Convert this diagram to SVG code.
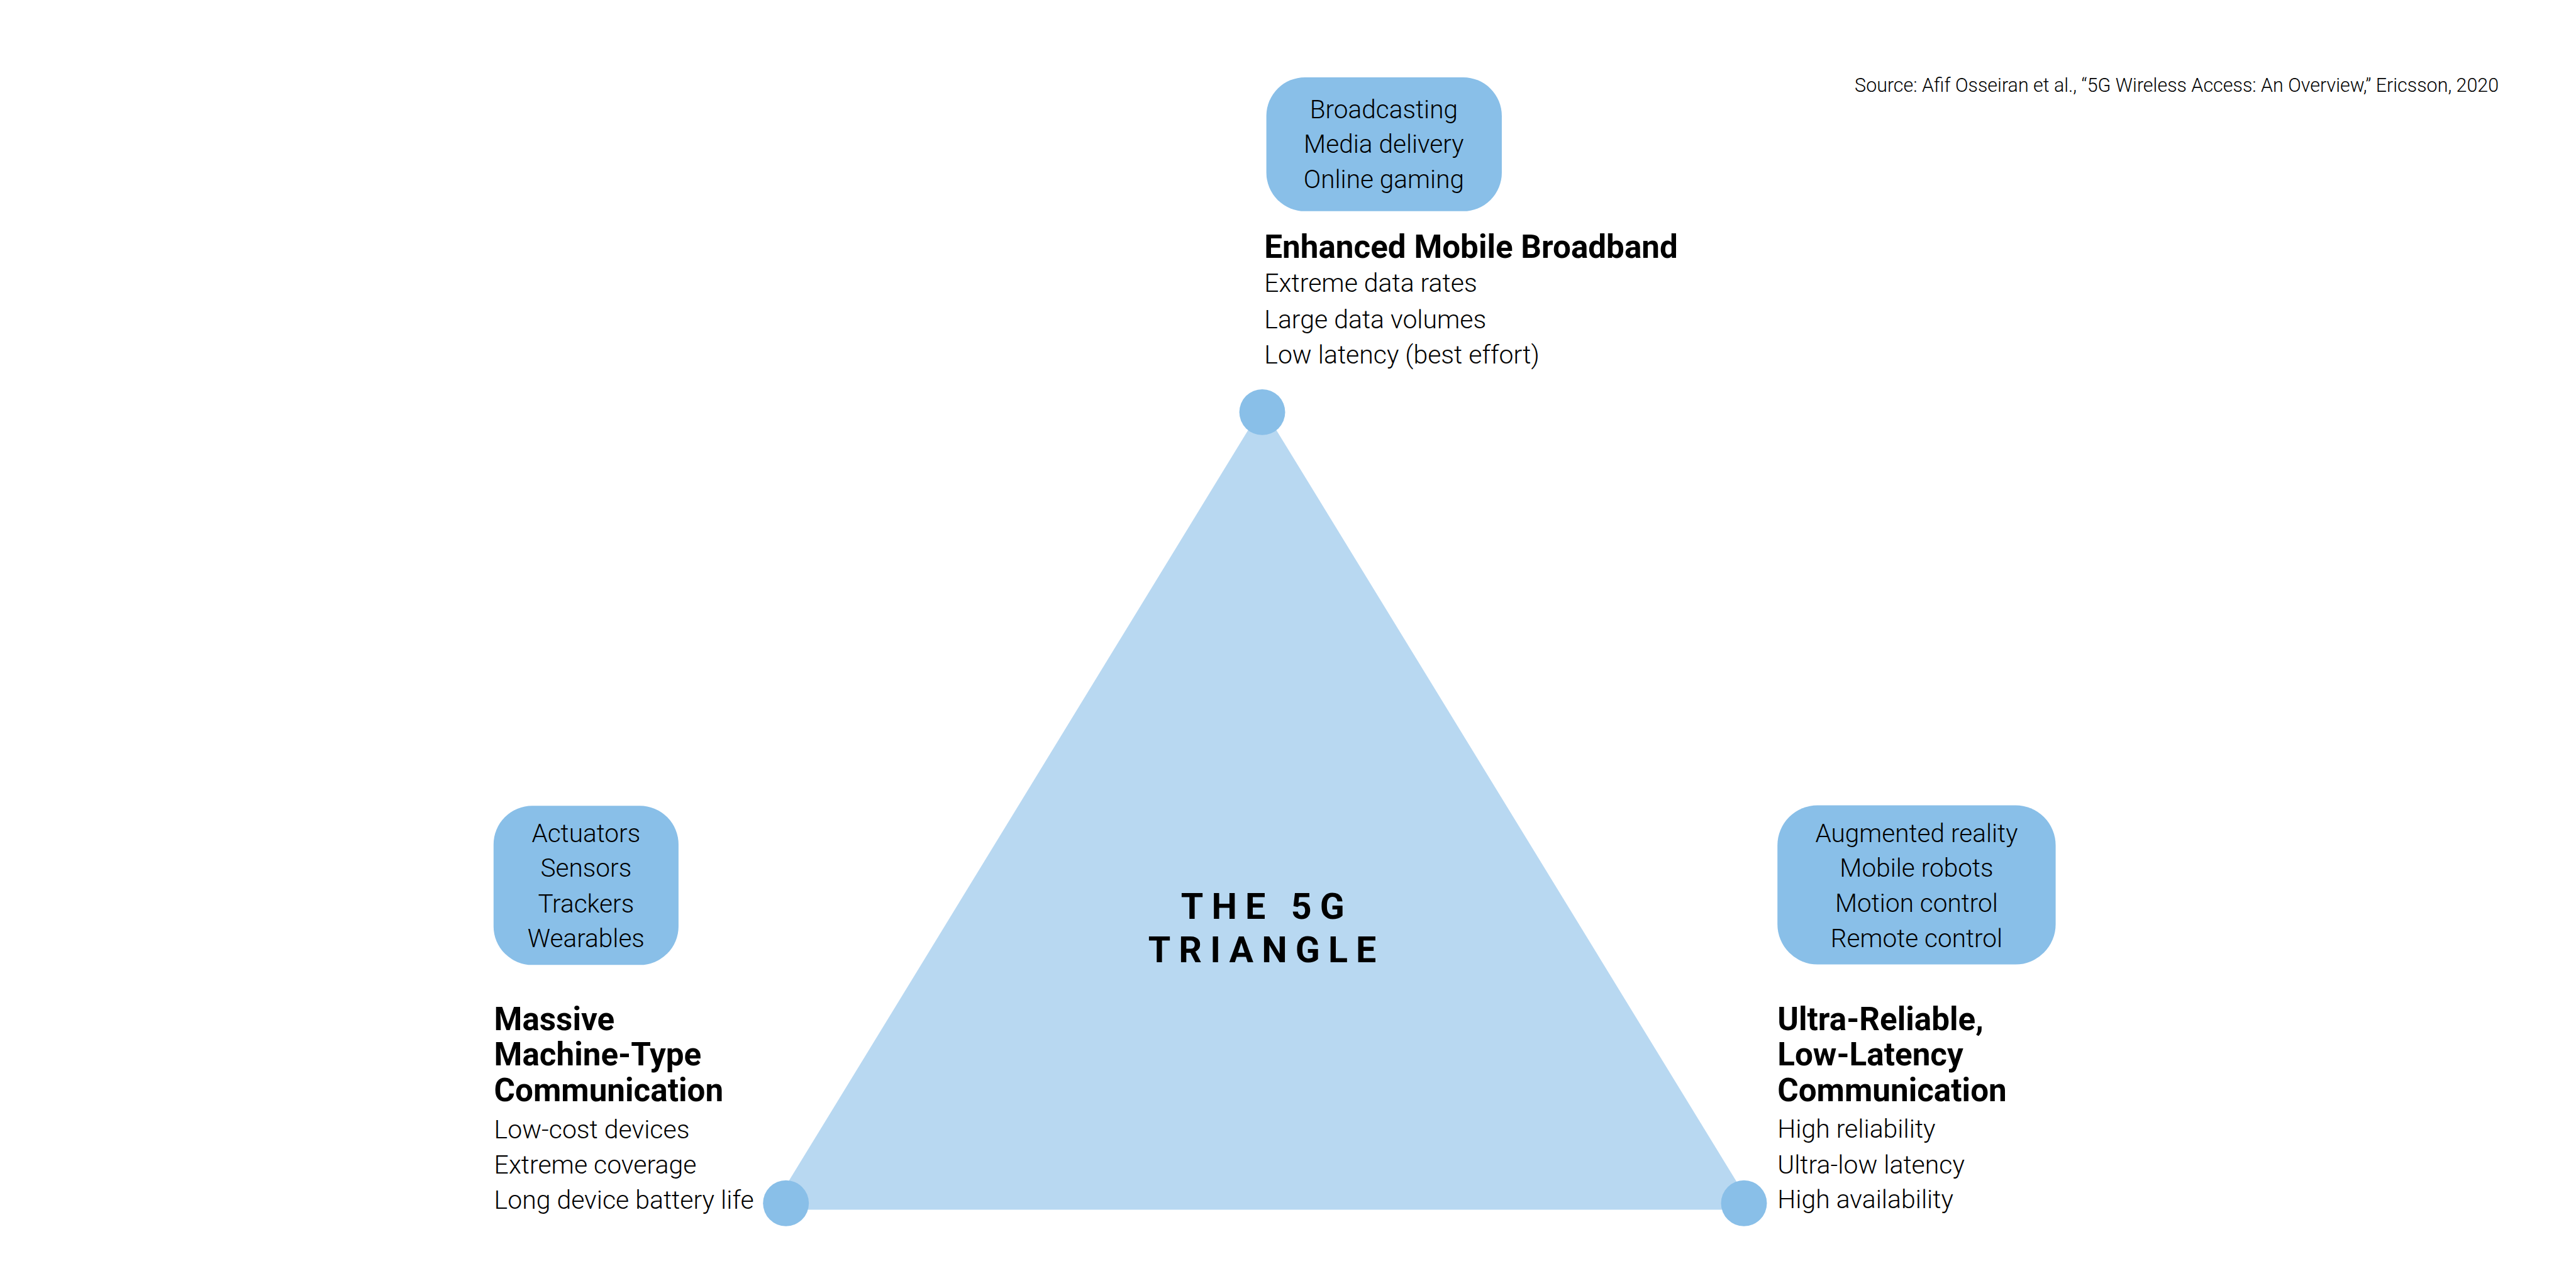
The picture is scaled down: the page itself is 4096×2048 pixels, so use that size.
<svg xmlns="http://www.w3.org/2000/svg" width="4096" height="2048" viewBox="0 0 4096 2048">
<style>
.box{fill:#89BFE8}
.dot{fill:#89BFE8}
.tri{fill:#B8D8F1}
.item{font-family:Roboto,"Liberation Sans",sans-serif;font-weight:300;font-size:49.5px;fill:#000;text-anchor:middle}
.head{font-family:Roboto,"Liberation Sans",sans-serif;font-weight:700;font-size:62.5px;fill:#000}
.sub{font-family:Roboto,"Liberation Sans",sans-serif;font-weight:300;font-size:50px;fill:#000}
.center{font-family:Roboto,"Liberation Sans",sans-serif;font-weight:700;font-size:70px;letter-spacing:16px;fill:#000;text-anchor:middle}
.src{font-family:Roboto,"Liberation Sans",sans-serif;font-weight:300;font-size:38px;fill:#000;text-anchor:end}
</style>
<rect width="4096" height="2048" fill="#fff"/>
<g transform="scale(0.8192)">
<g id="connectors">
<polygon class="tri" points="2450,790 1497,2348 3404,2348"/>
</g>
<g id="center-label">
<text class="center" x="2459" y="1783">THE 5G</text>
<text class="center" x="2458" y="1868">TRIANGLE</text>
</g>
<g id="embb">
<rect class="box" x="2458" y="150" width="457" height="260" rx="75" ry="75"/>
<text class="item" x="2686" y="229">Broadcasting</text>
<text class="item" x="2686" y="297">Media delivery</text>
<text class="item" x="2686" y="365">Online gaming</text>
<text class="head" x="2454" y="501">Enhanced Mobile Broadband</text>
<text class="sub" x="2454" y="567">Extreme data rates</text>
<text class="sub" x="2454" y="637">Large data volumes</text>
<text class="sub" x="2454" y="706">Low latency (best effort)</text>
<circle class="dot" cx="2450" cy="800" r="44.5"/>
</g>
<g id="mmtc">
<rect class="box" x="958" y="1564" width="359" height="309" rx="75" ry="75"/>
<text class="item" x="1137.5" y="1634">Actuators</text>
<text class="item" x="1137.5" y="1702">Sensors</text>
<text class="item" x="1137.5" y="1771">Trackers</text>
<text class="item" x="1137.5" y="1838">Wearables</text>
<text class="head" x="959" y="1999">Massive</text>
<text class="head" x="959" y="2068">Machine-Type</text>
<text class="head" x="959" y="2137">Communication</text>
<text class="sub" x="959" y="2209">Low-cost devices</text>
<text class="sub" x="959" y="2278">Extreme coverage</text>
<text class="sub" x="959" y="2346">Long device battery life</text>
<circle class="dot" cx="1525.5" cy="2335.5" r="44.5"/>
</g>
<g id="urllc">
<rect class="box" x="3450" y="1563" width="540" height="309" rx="78" ry="78"/>
<text class="item" x="3720" y="1634">Augmented reality</text>
<text class="item" x="3720" y="1702">Mobile robots</text>
<text class="item" x="3720" y="1770">Motion control</text>
<text class="item" x="3720" y="1838">Remote control</text>
<text class="head" x="3450" y="2000">Ultra-Reliable,</text>
<text class="head" x="3450" y="2068">Low-Latency</text>
<text class="head" x="3450" y="2137">Communication</text>
<text class="sub" x="3450" y="2208">High reliability</text>
<text class="sub" x="3450" y="2278">Ultra-low latency</text>
<text class="sub" x="3450" y="2345">High availability</text>
<circle class="dot" cx="3385" cy="2335.5" r="44.5"/>
</g>
<g id="source">
<text class="src" x="4850" y="178" textLength="1250" lengthAdjust="spacingAndGlyphs">Source: Afif Osseiran et al., “5G Wireless Access: An Overview,” Ericsson, 2020</text>
</g>
</g>
</svg>
